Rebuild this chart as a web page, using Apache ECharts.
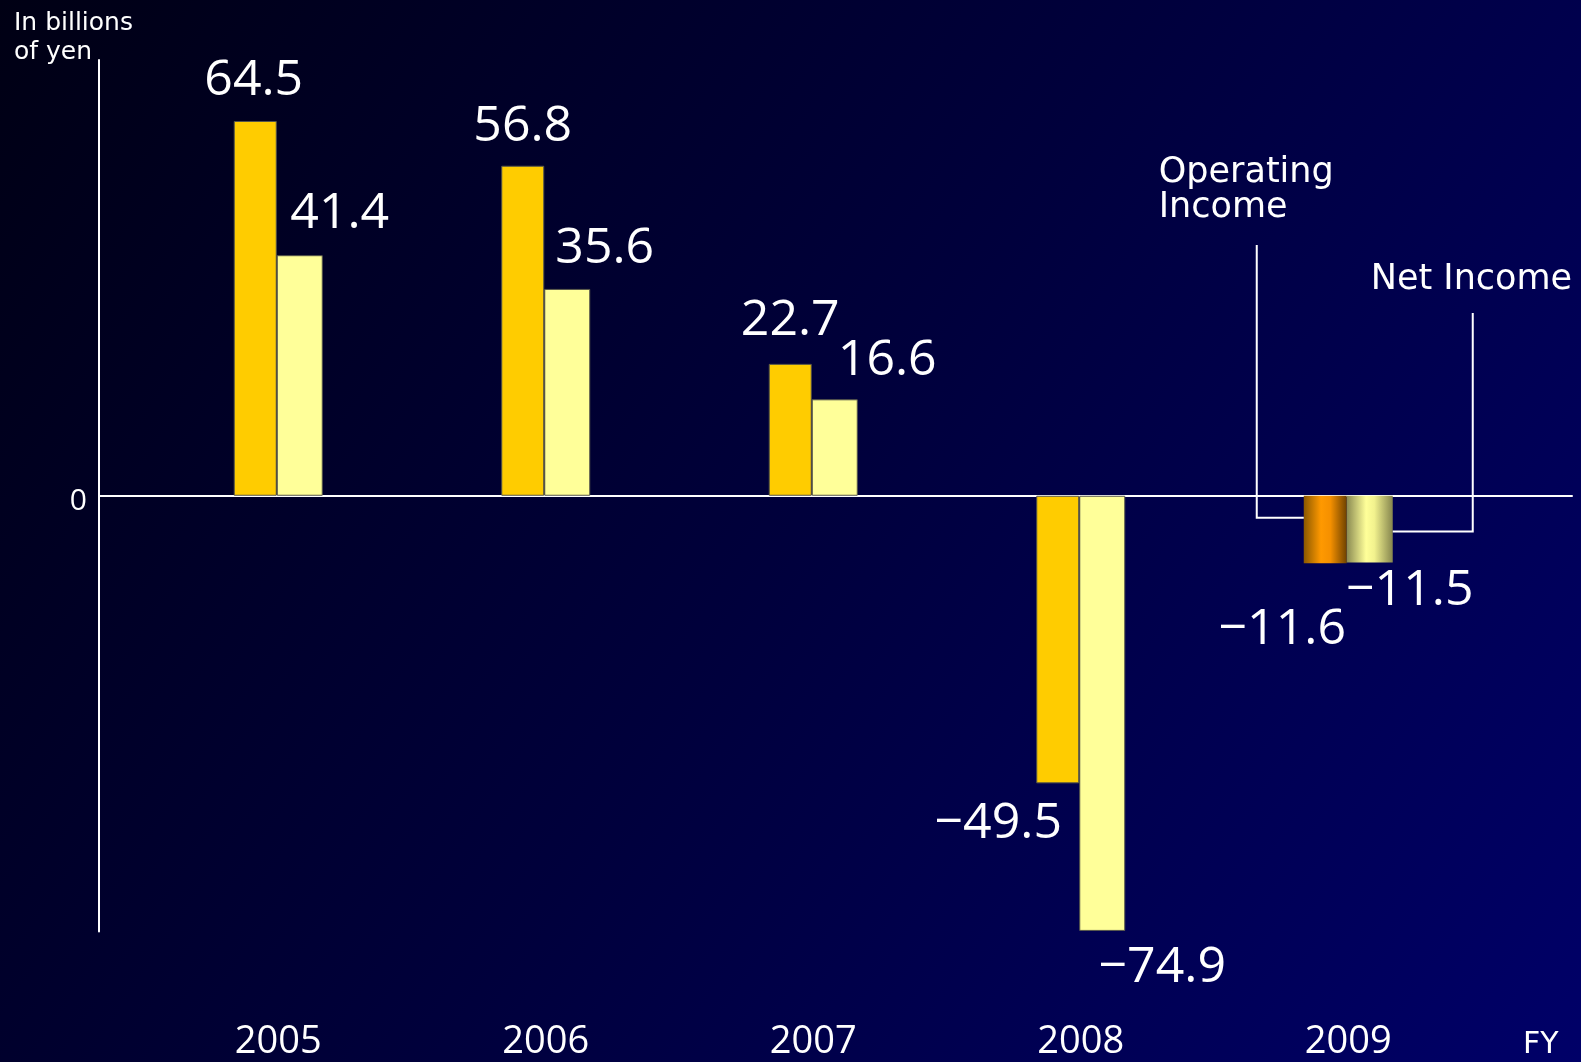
<!DOCTYPE html>
<html>
<head>
<meta charset="utf-8">
<script src="https://cdn.jsdelivr.net/npm/echarts@6/dist/echarts.min.js"></script>
<style>
html,body{margin:0;padding:0;background:#000020;}
#chart{width:1581px;height:1062px;}
</style>
</head>
<body>
<div id="chart"></div>
<script>
// ---- data ----
const years = ['2005', '2006', '2007', '2008', '2009'];
const operatingIncome = [64.5, 56.8, 22.7, -49.5, -11.6];
const netIncome = [41.4, 35.6, 16.6, -74.9, -11.5];
const yMin = -75;
const yMax = 75;
const yTickLabels = ['0'];
const unitText = 'In billions\nof yen';
const xUnitText = 'FY';
const seriesNames = ['Operating\nIncome', 'Net Income'];

// ---- styling (label nudges, not data) ----
const opLabelOffset = [[-1.5, -15], [0, -14], [0, -18], [-59.5, 15], [-43, 42]];
const niLabelOffset = [[40, -16], [37.5, -15], [52.5, -14], [60, 12], [40, 3]];
const OP_COLOR = '#FFCC00';
const NI_COLOR = '#FFFF99';
const OP_W = 43, NI_W = 46;
const NUM_FONT = '"Open Sans", "DejaVu Sans", sans-serif';
const TXT_FONT = '"DejaVu Sans", "Open Sans", sans-serif';

const chart = echarts.init(document.getElementById('chart'), null, {renderer: 'canvas'});

function fmt(v) {
  return v < 0 ? '\u2212' + Math.abs(v).toFixed(1) : v.toFixed(1);
}
const lastIdx = years.length - 1;
const opGrad = new echarts.graphic.LinearGradient(0, 0, 1, 0, [
  {offset: 0, color: '#8A5800'}, {offset: 0.4, color: '#FF9900'},
  {offset: 0.62, color: '#F59000'}, {offset: 1, color: '#6E4200'}]);
const niGrad = new echarts.graphic.LinearGradient(0, 0, 1, 0, [
  {offset: 0, color: '#8A8A52'}, {offset: 0.42, color: '#FFFF99'},
  {offset: 0.6, color: '#F2F28E'}, {offset: 1, color: '#85854E'}]);

function buildData(values, offsets, grad) {
  return values.map((v, i) => {
    const item = {
      value: v,
      label: {position: v >= 0 ? 'top' : 'bottom', offset: offsets[i]}
    };
    if (i === lastIdx) item.itemStyle = {color: grad, borderWidth: 0};
    return item;
  });
}

const labelStyle = {
  show: true, distance: 0, color: '#FFFFFF',
  fontFamily: NUM_FONT, fontSize: 50,
  formatter: p => fmt(p.value)
};

const option = {
  animation: false,
  backgroundColor: new echarts.graphic.LinearGradient(0, 0, 1, 1, [
    {offset: 0, color: '#000014'}, {offset: 0.5, color: '#00003C'}, {offset: 1, color: '#000068'}]),
  title: [
    {text: unitText, left: 14, top: 9, padding: 0,
     textStyle: {color: '#FFFFFF', fontFamily: TXT_FONT, fontWeight: 'normal', fontSize: 25, lineHeight: 29}},
    {text: xUnitText, left: 1523, top: 1030, padding: 0,
     textStyle: {color: '#FFFFFF', fontFamily: TXT_FONT, fontWeight: 'normal', fontSize: 30, lineHeight: 30}}
  ],
  grid: [
    {left: 99, right: 9, top: 60, bottom: 130.5},
    {left: 144.5, right: 99, top: 60, bottom: 130.5}
  ],
  xAxis: [
    {type: 'value', gridIndex: 0, min: 0, max: 1,
     axisLine: {show: true, onZero: true, lineStyle: {color: '#FFFFFF', width: 2}},
     axisTick: {show: false}, axisLabel: {show: false}, splitLine: {show: false}},
    {type: 'category', gridIndex: 1, data: years,
     axisLine: {show: false, onZero: false}, axisTick: {show: false}, splitLine: {show: false},
     axisLabel: {color: '#FFFFFF', fontFamily: NUM_FONT, fontSize: 38, margin: 92}}
  ],
  yAxis: [
    {type: 'value', gridIndex: 0, min: yMin, max: yMax, interval: 75,
     axisLine: {show: true, lineStyle: {color: '#FFFFFF', width: 2}},
     axisTick: {show: false}, splitLine: {show: false},
     axisLabel: {color: '#FFFFFF', fontFamily: NUM_FONT, fontSize: 30, margin: 12,
       verticalAlign: 'top', lineHeight: 12,
       formatter: v => (yTickLabels.indexOf(String(v)) >= 0 ? String(v) : '')}},
    {type: 'value', gridIndex: 1, min: yMin, max: yMax, show: false}
  ],
  series: [
    {name: seriesNames[0], type: 'bar', xAxisIndex: 1, yAxisIndex: 1,
     barWidth: OP_W, barGap: '0%',
     itemStyle: {color: OP_COLOR, borderColor: '#55554A', borderWidth: 1},
     label: labelStyle,
     data: buildData(operatingIncome, opLabelOffset, opGrad)},
    {name: seriesNames[1], type: 'bar', xAxisIndex: 1, yAxisIndex: 1,
     barWidth: NI_W, barGap: '0%',
     itemStyle: {color: NI_COLOR, borderColor: '#55554A', borderWidth: 1},
     label: labelStyle,
     data: buildData(netIncome, niLabelOffset, niGrad)}
  ]
};
chart.setOption(option);

// ---- callout annotations tied to the 2009 bars ----
const cx = chart.convertToPixel({xAxisIndex: 1}, years[lastIdx]);
const zeroY = chart.convertToPixel({yAxisIndex: 1}, 0);
const opLeft = cx - (OP_W + NI_W) / 2;
const niRight = cx + (OP_W + NI_W) / 2;
const opLineX = opLeft - 47;
const niLineX = niRight + 80;
const lineStyle = {stroke: '#FFFFFF', lineWidth: 2, fill: null};
chart.setOption({
  graphic: [
    {type: 'polyline', silent: true, z: 10,
     shape: {points: [[opLineX, 245], [opLineX, zeroY + 22], [opLeft, zeroY + 22]]}, style: lineStyle},
    {type: 'polyline', silent: true, z: 10,
     shape: {points: [[niLineX, 313], [niLineX, zeroY + 35.7], [niRight, zeroY + 35.7]]}, style: lineStyle},
    {type: 'text', silent: true, z: 10, x: opLineX - 98, y: 155,
     style: {text: seriesNames[0], fill: '#FFFFFF', font: '35px ' + TXT_FONT, lineHeight: 35}},
    {type: 'text', silent: true, z: 10, x: niLineX - 102, y: 262,
     style: {text: seriesNames[1], fill: '#FFFFFF', font: '35px ' + TXT_FONT, lineHeight: 35}}
  ]
});
</script>
</body>
</html>
